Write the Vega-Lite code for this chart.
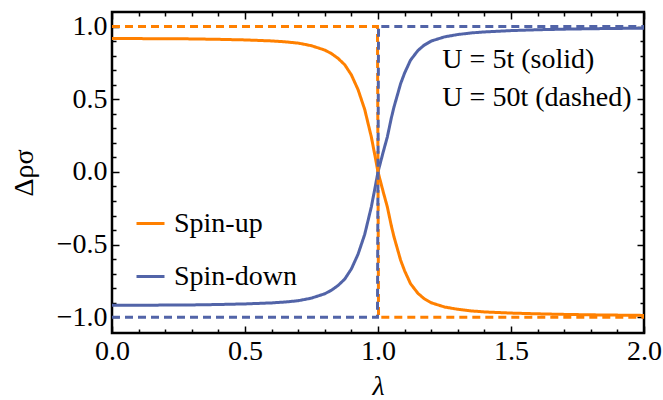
{
  "$schema": "https://vega.github.io/schema/vega-lite/v6.json",
  "autosize": "none",
  "width": 532,
  "height": 321,
  "padding": {"left": 112, "top": 12, "right": 19, "bottom": 67},
  "config": {
    "font": "Liberation Serif",
    "view": {"stroke": "black", "strokeWidth": 2.5},
    "axis": {"grid": false, "domain": false, "labelColor": "black", "titleColor": "black", "labelFont": "Liberation Serif", "titleFont": "Liberation Serif", "labelFontSize": 28, "titleFontSize": 28, "titleFontWeight": "normal", "labelFlush": false, "labelOverlap": false}
  },
  "datasets": {
    "curves": [
      {"lambda": 0, "rho": 0.917, "spin": "Spin-up", "U": "5t"},
      {"lambda": 0.1, "rho": 0.917, "spin": "Spin-up", "U": "5t"},
      {"lambda": 0.2, "rho": 0.916, "spin": "Spin-up", "U": "5t"},
      {"lambda": 0.3, "rho": 0.915, "spin": "Spin-up", "U": "5t"},
      {"lambda": 0.4, "rho": 0.912, "spin": "Spin-up", "U": "5t"},
      {"lambda": 0.5, "rho": 0.908, "spin": "Spin-up", "U": "5t"},
      {"lambda": 0.6, "rho": 0.901, "spin": "Spin-up", "U": "5t"},
      {"lambda": 0.65, "rho": 0.895, "spin": "Spin-up", "U": "5t"},
      {"lambda": 0.7, "rho": 0.886, "spin": "Spin-up", "U": "5t"},
      {"lambda": 0.75, "rho": 0.868, "spin": "Spin-up", "U": "5t"},
      {"lambda": 0.8, "rho": 0.838, "spin": "Spin-up", "U": "5t"},
      {"lambda": 0.825, "rho": 0.814, "spin": "Spin-up", "U": "5t"},
      {"lambda": 0.85, "rho": 0.781, "spin": "Spin-up", "U": "5t"},
      {"lambda": 0.875, "rho": 0.737, "spin": "Spin-up", "U": "5t"},
      {"lambda": 0.9, "rho": 0.667, "spin": "Spin-up", "U": "5t"},
      {"lambda": 0.925, "rho": 0.566, "spin": "Spin-up", "U": "5t"},
      {"lambda": 0.95, "rho": 0.43, "spin": "Spin-up", "U": "5t"},
      {"lambda": 0.975, "rho": 0.24, "spin": "Spin-up", "U": "5t"},
      {"lambda": 0.99, "rho": 0.098, "spin": "Spin-up", "U": "5t"},
      {"lambda": 1.0, "rho": 0.0, "spin": "Spin-up", "U": "5t"},
      {"lambda": 1.01, "rho": -0.07, "spin": "Spin-up", "U": "5t"},
      {"lambda": 1.02, "rho": -0.14, "spin": "Spin-up", "U": "5t"},
      {"lambda": 1.035, "rho": -0.24, "spin": "Spin-up", "U": "5t"},
      {"lambda": 1.05, "rho": -0.37, "spin": "Spin-up", "U": "5t"},
      {"lambda": 1.06, "rho": -0.446, "spin": "Spin-up", "U": "5t"},
      {"lambda": 1.07, "rho": -0.51, "spin": "Spin-up", "U": "5t"},
      {"lambda": 1.085, "rho": -0.607, "spin": "Spin-up", "U": "5t"},
      {"lambda": 1.1, "rho": -0.68, "spin": "Spin-up", "U": "5t"},
      {"lambda": 1.122, "rho": -0.768, "spin": "Spin-up", "U": "5t"},
      {"lambda": 1.15, "rho": -0.835, "spin": "Spin-up", "U": "5t"},
      {"lambda": 1.173, "rho": -0.871, "spin": "Spin-up", "U": "5t"},
      {"lambda": 1.2, "rho": -0.9, "spin": "Spin-up", "U": "5t"},
      {"lambda": 1.25, "rho": -0.929, "spin": "Spin-up", "U": "5t"},
      {"lambda": 1.3, "rho": -0.945, "spin": "Spin-up", "U": "5t"},
      {"lambda": 1.35, "rho": -0.956, "spin": "Spin-up", "U": "5t"},
      {"lambda": 1.4, "rho": -0.963, "spin": "Spin-up", "U": "5t"},
      {"lambda": 1.5, "rho": -0.971, "spin": "Spin-up", "U": "5t"},
      {"lambda": 1.6, "rho": -0.976, "spin": "Spin-up", "U": "5t"},
      {"lambda": 1.7, "rho": -0.98, "spin": "Spin-up", "U": "5t"},
      {"lambda": 1.8, "rho": -0.983, "spin": "Spin-up", "U": "5t"},
      {"lambda": 1.9, "rho": -0.985, "spin": "Spin-up", "U": "5t"},
      {"lambda": 2.0, "rho": -0.987, "spin": "Spin-up", "U": "5t"},
      {"lambda": 0, "rho": -0.917, "spin": "Spin-down", "U": "5t"},
      {"lambda": 0.1, "rho": -0.917, "spin": "Spin-down", "U": "5t"},
      {"lambda": 0.2, "rho": -0.916, "spin": "Spin-down", "U": "5t"},
      {"lambda": 0.3, "rho": -0.915, "spin": "Spin-down", "U": "5t"},
      {"lambda": 0.4, "rho": -0.912, "spin": "Spin-down", "U": "5t"},
      {"lambda": 0.5, "rho": -0.908, "spin": "Spin-down", "U": "5t"},
      {"lambda": 0.6, "rho": -0.901, "spin": "Spin-down", "U": "5t"},
      {"lambda": 0.65, "rho": -0.895, "spin": "Spin-down", "U": "5t"},
      {"lambda": 0.7, "rho": -0.886, "spin": "Spin-down", "U": "5t"},
      {"lambda": 0.75, "rho": -0.868, "spin": "Spin-down", "U": "5t"},
      {"lambda": 0.8, "rho": -0.838, "spin": "Spin-down", "U": "5t"},
      {"lambda": 0.825, "rho": -0.814, "spin": "Spin-down", "U": "5t"},
      {"lambda": 0.85, "rho": -0.781, "spin": "Spin-down", "U": "5t"},
      {"lambda": 0.875, "rho": -0.737, "spin": "Spin-down", "U": "5t"},
      {"lambda": 0.9, "rho": -0.667, "spin": "Spin-down", "U": "5t"},
      {"lambda": 0.925, "rho": -0.566, "spin": "Spin-down", "U": "5t"},
      {"lambda": 0.95, "rho": -0.43, "spin": "Spin-down", "U": "5t"},
      {"lambda": 0.975, "rho": -0.24, "spin": "Spin-down", "U": "5t"},
      {"lambda": 0.99, "rho": -0.098, "spin": "Spin-down", "U": "5t"},
      {"lambda": 1.0, "rho": 0.0, "spin": "Spin-down", "U": "5t"},
      {"lambda": 1.01, "rho": 0.07, "spin": "Spin-down", "U": "5t"},
      {"lambda": 1.02, "rho": 0.14, "spin": "Spin-down", "U": "5t"},
      {"lambda": 1.035, "rho": 0.24, "spin": "Spin-down", "U": "5t"},
      {"lambda": 1.05, "rho": 0.37, "spin": "Spin-down", "U": "5t"},
      {"lambda": 1.06, "rho": 0.446, "spin": "Spin-down", "U": "5t"},
      {"lambda": 1.07, "rho": 0.51, "spin": "Spin-down", "U": "5t"},
      {"lambda": 1.085, "rho": 0.607, "spin": "Spin-down", "U": "5t"},
      {"lambda": 1.1, "rho": 0.68, "spin": "Spin-down", "U": "5t"},
      {"lambda": 1.122, "rho": 0.768, "spin": "Spin-down", "U": "5t"},
      {"lambda": 1.15, "rho": 0.835, "spin": "Spin-down", "U": "5t"},
      {"lambda": 1.173, "rho": 0.871, "spin": "Spin-down", "U": "5t"},
      {"lambda": 1.2, "rho": 0.9, "spin": "Spin-down", "U": "5t"},
      {"lambda": 1.25, "rho": 0.929, "spin": "Spin-down", "U": "5t"},
      {"lambda": 1.3, "rho": 0.945, "spin": "Spin-down", "U": "5t"},
      {"lambda": 1.35, "rho": 0.956, "spin": "Spin-down", "U": "5t"},
      {"lambda": 1.4, "rho": 0.963, "spin": "Spin-down", "U": "5t"},
      {"lambda": 1.5, "rho": 0.972, "spin": "Spin-down", "U": "5t"},
      {"lambda": 1.6, "rho": 0.978, "spin": "Spin-down", "U": "5t"},
      {"lambda": 1.7, "rho": 0.982, "spin": "Spin-down", "U": "5t"},
      {"lambda": 1.8, "rho": 0.985, "spin": "Spin-down", "U": "5t"},
      {"lambda": 1.9, "rho": 0.987, "spin": "Spin-down", "U": "5t"},
      {"lambda": 2.0, "rho": 0.989, "spin": "Spin-down", "U": "5t"},
      {"lambda": 0, "rho": 1.0, "spin": "Spin-up", "U": "50t"},
      {"lambda": 0.998, "rho": 1.0, "spin": "Spin-up", "U": "50t"},
      {"lambda": 1.002, "rho": -1.0, "spin": "Spin-up", "U": "50t"},
      {"lambda": 2.0, "rho": -1.0, "spin": "Spin-up", "U": "50t"},
      {"lambda": 0, "rho": -1.0, "spin": "Spin-down", "U": "50t"},
      {"lambda": 0.998, "rho": -1.0, "spin": "Spin-down", "U": "50t"},
      {"lambda": 1.002, "rho": 1.0, "spin": "Spin-down", "U": "50t"},
      {"lambda": 2.0, "rho": 1.0, "spin": "Spin-down", "U": "50t"}
    ],
    "notes": [
      {"lambda": 1.242, "rho": 0.772, "label": "U = 5t (solid)"},
      {"lambda": 1.242, "rho": 0.51, "label": "U = 50t (dashed)"}
    ]
  },
  "layer": [
    {
      "data": {"name": "curves"},
      "mark": {"type": "line", "strokeWidth": 3},
      "encoding": {
        "x": {"field": "lambda", "type": "quantitative", "scale": {"domain": [0, 2], "nice": false, "zero": false},
          "axis": {"orient": "bottom", "values": [0, 0.5, 1, 1.5, 2], "format": ".1f", "ticks": true, "tickSize": -7, "tickColor": "black", "tickWidth": 1.5,
            "labelPadding": 11, "title": "λ", "titleFontStyle": "italic", "titlePadding": 7}},
        "y": {"field": "rho", "type": "quantitative", "scale": {"domain": [-1.108, 1.1], "nice": false, "zero": false},
          "axis": {"orient": "left", "values": [-1, -0.5, 0, 0.5, 1], "format": ".1f", "ticks": true, "tickSize": -7, "tickColor": "black", "tickWidth": 1.5,
            "labelPadding": 12, "title": "Δρσ", "titlePadding": 18}},
        "color": {"field": "spin", "type": "nominal", "scale": {"domain": ["Spin-up", "Spin-down"], "range": ["#ff8000", "#5264a8"]},
          "legend": {"orient": "none", "legendX": 23, "legendY": 196, "title": null, "symbolType": "stroke", "symbolSize": 784, "symbolStrokeWidth": 3, "labelFontSize": 28, "labelFont": "Liberation Serif", "labelColor": "black", "rowPadding": 23, "labelOffset": 8, "padding": 0}},
        "strokeDash": {"field": "U", "type": "nominal", "scale": {"domain": ["5t", "50t"], "range": [[1, 0], [8, 5]]}, "legend": null}
      }
    },
    {
      "data": {"name": "notes"},
      "mark": {"type": "text", "align": "left", "baseline": "middle", "fontSize": 28, "font": "Liberation Serif", "color": "black"},
      "encoding": {
        "x": {"field": "lambda", "type": "quantitative",
          "axis": {"orient": "top", "values": [0, 0.5, 1, 1.5, 2], "labels": false, "title": null, "ticks": true, "tickSize": -7, "tickColor": "black", "tickWidth": 1.5}},
        "y": {"field": "rho", "type": "quantitative",
          "axis": {"orient": "right", "values": [-1, -0.5, 0, 0.5, 1], "labels": false, "title": null, "ticks": true, "tickSize": -7, "tickColor": "black", "tickWidth": 1.5}},
        "text": {"field": "label"}
      }
    },
    {
      "data": {"name": "notes"},
      "mark": {"type": "text", "text": " "},
      "encoding": {
        "x": {"field": "lambda", "type": "quantitative",
          "axis": {"orient": "bottom", "values": [0.1,0.2,0.3,0.4,0.6,0.7,0.8,0.9,1.1,1.2,1.3,1.4,1.6,1.7,1.8,1.9], "labels": false, "title": null, "ticks": true, "tickSize": -4, "tickColor": "black", "tickWidth": 1.5}},
        "y": {"field": "rho", "type": "quantitative",
          "axis": {"orient": "left", "values": [-0.9,-0.8,-0.7,-0.6,-0.4,-0.3,-0.2,-0.1,0.1,0.2,0.3,0.4,0.6,0.7,0.8,0.9], "labels": false, "title": null, "ticks": true, "tickSize": -4, "tickColor": "black", "tickWidth": 1.5}}
      }
    },
    {
      "data": {"name": "notes"},
      "mark": {"type": "text", "text": " "},
      "encoding": {
        "x": {"field": "lambda", "type": "quantitative",
          "axis": {"orient": "top", "values": [0.1,0.2,0.3,0.4,0.6,0.7,0.8,0.9,1.1,1.2,1.3,1.4,1.6,1.7,1.8,1.9], "labels": false, "title": null, "ticks": true, "tickSize": -4, "tickColor": "black", "tickWidth": 1.5}},
        "y": {"field": "rho", "type": "quantitative",
          "axis": {"orient": "right", "values": [-0.9,-0.8,-0.7,-0.6,-0.4,-0.3,-0.2,-0.1,0.1,0.2,0.3,0.4,0.6,0.7,0.8,0.9], "labels": false, "title": null, "ticks": true, "tickSize": -4, "tickColor": "black", "tickWidth": 1.5}}
      }
    }
  ],
  "resolve": {"axis": {"x": "independent", "y": "independent"}}
}
